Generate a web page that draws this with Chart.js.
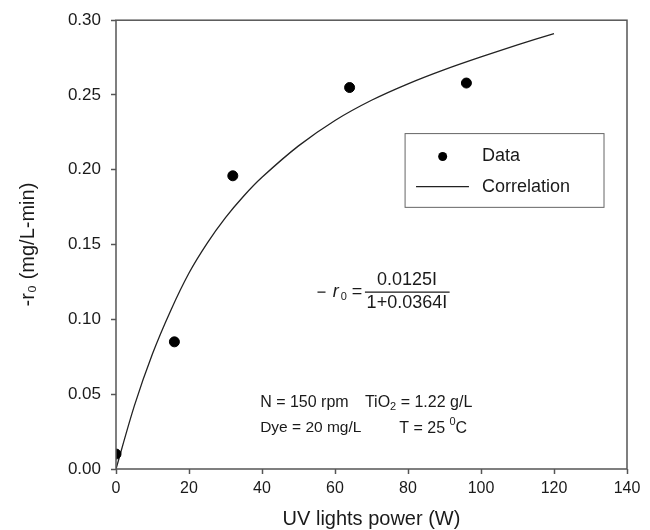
<!DOCTYPE html>
<html>
<head>
<meta charset="utf-8">
<script src="https://cdn.jsdelivr.net/npm/chart.js@4.4.1/dist/chart.umd.min.js"></script>
<style>
  html, body { margin: 0; padding: 0; background: #fff; }
  #wrap { width: 650px; height: 530px; }
</style>
</head>
<body>
<div id="wrap"><canvas id="rate-chart"></canvas></div>
<script>
// measured points
const powerData = [0, 16, 32, 64, 96];
const rateData = [0.010, 0.085, 0.196, 0.255, 0.258];
// correlation curve
const powerFit = [0, 5, 10, 15, 20, 25, 30, 35, 40, 50, 60, 70, 80, 90, 100, 110, 120];
const rateFit = [0, 0.042, 0.077, 0.106, 0.131, 0.151, 0.168, 0.1825, 0.195, 0.216, 0.233, 0.2465, 0.2575, 0.267, 0.2755, 0.2835, 0.291];
const xTicks = [0, 20, 40, 60, 80, 100, 120, 140];
const yTicks = [0, 0.05, 0.10, 0.15, 0.20, 0.25, 0.30];

const FONT = "'Liberation Sans', Arial, sans-serif";
const INK = '#1a1a1a';
const AXIS = '#555';

const toXY = (xs, ys) => xs.map((x, i) => ({ x: x, y: ys[i] }));

// frame + in-plot legend + equation + conditions
const annotations = {
  id: 'annotations',
  afterDatasetsDraw(chart) {
    const { ctx, chartArea: a, scales: { x, y } } = chart;
    const px = (v) => x.getPixelForValue(v);
    const py = (v) => y.getPixelForValue(v);
    ctx.save();

    // box around the plot
    ctx.strokeStyle = AXIS;
    ctx.lineWidth = 1.5;
    ctx.strokeRect(a.left, a.top, a.right - a.left, a.bottom - a.top);

    // legend
    ctx.strokeStyle = '#666';
    ctx.lineWidth = 1;
    ctx.strokeRect(px(79.2), py(0.2242), px(133.7) - px(79.2), py(0.1749) - py(0.2242));
    ctx.fillStyle = '#000';
    ctx.beginPath();
    ctx.arc(px(89.5), py(0.2089), 4.5, 0, Math.PI * 2);
    ctx.fill();
    ctx.strokeStyle = '#222';
    ctx.lineWidth = 1.2;
    ctx.beginPath();
    ctx.moveTo(px(82.2), py(0.1887));
    ctx.lineTo(px(96.7), py(0.1887));
    ctx.stroke();
    ctx.fillStyle = INK;
    ctx.font = '18px ' + FONT;
    ctx.textBaseline = 'middle';
    ctx.textAlign = 'left';
    ctx.fillText('Data', px(100.3), py(0.2089));
    ctx.fillText('Correlation', px(100.3), py(0.1887));

    // equation
    ctx.font = '18px ' + FONT;
    ctx.textAlign = 'center';
    ctx.fillText('0.0125I', px(79.7), py(0.1265));
    ctx.fillText('1+0.0364I', px(79.7), py(0.1107));
    ctx.strokeStyle = INK;
    ctx.lineWidth = 1.2;
    const ey = py(0.1182);
    ctx.beginPath();
    ctx.moveTo(px(68.2), ey);
    ctx.lineTo(px(91.4), ey);
    ctx.moveTo(px(55.2), ey);
    ctx.lineTo(px(57.4), ey);
    ctx.stroke();
    ctx.textAlign = 'left';
    ctx.font = 'italic 18px ' + FONT;
    ctx.fillText('r', px(59.4), ey);
    ctx.font = '11px ' + FONT;
    ctx.fillText('0', px(61.6), ey + 5);
    ctx.font = '18px ' + FONT;
    ctx.fillText('=', px(64.6), ey);

    // run conditions
    let cx = 0;
    let cy = 0;
    const put = (t, dy, size) => {
      ctx.font = size + 'px ' + FONT;
      ctx.fillText(t, cx, cy + dy);
      cx += ctx.measureText(t).width;
    };
    cy = py(0.0447);
    cx = px(39.5);
    put('N = 150 rpm', 0, 16);
    cx = px(68.2);
    put('TiO', 0, 16);
    put('2', 5, 11);
    put(' = 1.22 g/L', 0, 16);
    cy = py(0.0273);
    cx = px(39.5);
    put('Dye = 20 mg/L', 0, 15.5);
    cx = px(77.6);
    put('T = 25 ', 0, 16);
    put('0', -6, 11);
    put('C', 0, 16);

    ctx.restore();
  }
};

const setTicks = (list) => (scale) => { scale.ticks = list.map(v => ({ value: v })); };

const config = {
  type: 'scatter',
  data: {
    datasets: [
      {
        label: 'Data',
        data: toXY(powerData, rateData),
        backgroundColor: '#000',
        borderColor: '#000',
        pointRadius: 5,
        pointHoverRadius: 5,
        order: 1
      },
      {
        label: 'Correlation',
        data: toXY(powerFit, rateFit),
        showLine: true,
        borderColor: '#222',
        borderWidth: 1.3,
        pointRadius: 0,
        tension: 0.3,
        fill: false,
        order: 2
      }
    ]
  },
  options: {
    responsive: true,
    maintainAspectRatio: false,
    animation: false,
    layout: { padding: { top: 19, right: 23, left: 0, bottom: 0 } },
    plugins: {
      legend: { display: false },
      tooltip: { enabled: false }
    },
    scales: {
      x: {
        type: 'linear',
        min: 0,
        max: 140,
        afterBuildTicks: setTicks(xTicks),
        afterFit: (scale) => { scale.height = 61; },
        border: { display: false },
        grid: { drawOnChartArea: false, drawTicks: true, tickLength: 5, tickColor: AXIS, tickWidth: 1.5 },
        ticks: { color: INK, padding: 5, font: { family: FONT, size: 16 }, maxRotation: 0 },
        title: {
          display: true,
          text: 'UV lights power (W)',
          color: INK,
          font: { family: FONT, size: 20 },
          padding: { top: 0, bottom: -1 }
        }
      },
      y: {
        type: 'linear',
        min: 0,
        max: 0.30,
        afterBuildTicks: setTicks(yTicks),
        afterFit: (scale) => { scale.width = 116; },
        border: { display: false },
        grid: { drawOnChartArea: false, drawTicks: true, tickLength: 5, tickColor: AXIS, tickWidth: 1.5 },
        ticks: {
          color: INK,
          padding: 10,
          font: { family: FONT, size: 17 },
          callback: (v) => Number(v).toFixed(2)
        },
        title: {
          display: true,
          text: '-r\u2080 (mg/L-min)',
          color: INK,
          font: { family: FONT, size: 20 },
          padding: { top: 16, bottom: 0 }
        }
      }
    }
  },
  plugins: [annotations]
};

let rateChart = new Chart(document.getElementById('rate-chart'), config);
</script>
</body>
</html>
